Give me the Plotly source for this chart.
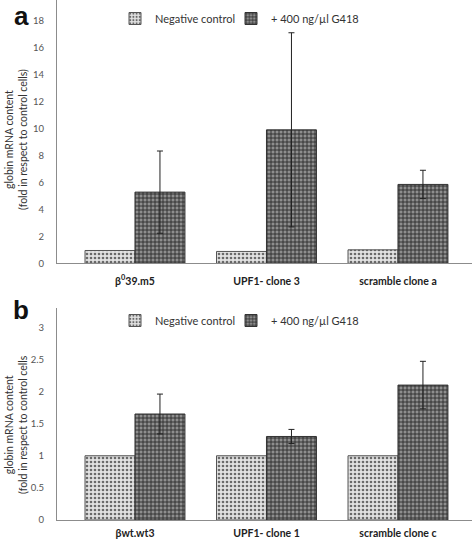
import plotly.graph_objects as go

cats_a = ["β<sup>0</sup>39.m5", "UPF1- clone 3", "scramble clone a"]
neg_a = [0.95, 0.88, 1.0]
g418_a = [5.28, 9.9, 5.85]
g418_a_err = [3.05, 7.2, 1.05]

cats_b = ["βwt.wt3", "UPF1- clone 1", "scramble clone c"]
neg_b = [1.0, 1.0, 1.0]
g418_b = [1.65, 1.30, 2.10]
g418_b_err = [0.31, 0.11, 0.37]

ticks_a = [0, 2, 4, 6, 8, 10, 12, 14, 16, 18]
ticks_b = [0, 0.5, 1, 1.5, 2, 2.5, 3]
tick_text_b = ["0", "0.5", "1", "1.5", "2", "2.5", "3"]

FONT = "Lato"
W, H = 472, 547

neg_style = dict(color="#d9d9d9", line=dict(color="#555555", width=1),
                 pattern=dict(shape=".", fgcolor="#6a6a6a", bgcolor="#e2e2e2", size=4, solidity=0.35, fillmode="replace"))
g_style = dict(color="#7a7a7a", line=dict(color="#333333", width=1),
               pattern=dict(shape="+", fgcolor="#2a2a2a", bgcolor="#8e8e8e", size=4, solidity=0.4, fillmode="replace"))

err_style = dict(type="data", thickness=1, width=3, color="#222222")

fig = go.Figure()
fig.add_trace(go.Bar(x=cats_a, y=neg_a, name="Negative control", marker=neg_style,
                     xaxis="x", yaxis="y", legend="legend", showlegend=True))
fig.add_trace(go.Bar(x=cats_a, y=g418_a, name="+ 400 ng/µl G418", marker=g_style,
                     error_y=dict(array=g418_a_err, **err_style),
                     xaxis="x", yaxis="y", legend="legend2", showlegend=True))
fig.add_trace(go.Bar(x=cats_b, y=neg_b, name="Negative control", marker=neg_style,
                     xaxis="x2", yaxis="y2", legend="legend3", showlegend=True))
fig.add_trace(go.Bar(x=cats_b, y=g418_b, name="+ 400 ng/µl G418", marker=g_style,
                     error_y=dict(array=g418_b_err, **err_style),
                     xaxis="x2", yaxis="y2", legend="legend4", showlegend=True))

xd = [57 / W, 1.0]
ya_dom = [(H - 263.3) / H, 1.0]
yb_dom = [(H - 520) / H, (H - 308) / H]

xaxis_common = dict(showgrid=False, showline=True, linecolor="#8c8c8c", linewidth=1,
                    ticks="", tickfont=dict(family=FONT, size=10.5, color="#222222", weight="bold"),
                    range=[-0.593, 2.563], domain=xd, zeroline=False, automargin=False)
yaxis_common = dict(showgrid=False, showline=True, linecolor="#8c8c8c", linewidth=1,
                    ticks="", tickfont=dict(family=FONT, size=9.5, color="#555555"),
                    zeroline=False, ticklabelstandoff=10, automargin=False)

leg_common = dict(orientation="h", xanchor="left", yanchor="top",
                  font=dict(family=FONT, size=11, color="#333333"), bgcolor="rgba(0,0,0,0)",
                  itemwidth=30, tracegroupgap=0, visible=True)

fig.update_layout(
    width=W, height=H,
    margin=dict(l=0, r=0, t=0, b=0),
    paper_bgcolor="white", plot_bgcolor="white",
    showlegend=True,
    barmode="group", bargap=0.24, bargroupgap=0,
    font=dict(family=FONT, color="#333333"),
    xaxis=dict(anchor="y", ticklabelstandoff=8, **xaxis_common),
    yaxis=dict(anchor="x", domain=ya_dom, range=[0, 19.53], tickvals=ticks_a, **yaxis_common),
    xaxis2=dict(anchor="y2", ticklabelstandoff=3, **xaxis_common),
    yaxis2=dict(anchor="x2", domain=yb_dom, range=[0, 3.3], tickvals=ticks_b, ticktext=tick_text_b, **yaxis_common),
    legend=dict(x=115 / W, y=1 - 4 / H, **leg_common),
    legend2=dict(x=231 / W, y=1 - 4 / H, **leg_common),
    legend3=dict(x=115 / W, y=1 - 306 / H, **leg_common),
    legend4=dict(x=231 / W, y=1 - 306 / H, **leg_common),
)

ytitle_a = "globin mRNA content<br>(fold in respect to control cells)"
ytitle_b = "globin mRNA content<br>(fold in respect to control cells"
for txt, yc in ((ytitle_a, 140), (ytitle_b, 425)):
    fig.add_annotation(text=txt, xref="paper", yref="paper", x=16 / W, y=1 - yc / H,
                       xanchor="center", yanchor="middle",
                       textangle=-90, showarrow=False, font=dict(family=FONT, size=10.5, color="#333333"))
fig.add_annotation(text="<b>a</b>", xref="paper", yref="paper", x=21 / W, y=1 - 16 / H,
                   xanchor="center", yanchor="middle",
                   showarrow=False, font=dict(family="Liberation Sans", size=26, color="#111111"))
fig.add_annotation(text="<b>b</b>", xref="paper", yref="paper", x=21 / W, y=1 - 310 / H,
                   xanchor="center", yanchor="middle",
                   showarrow=False, font=dict(family="Liberation Sans", size=26, color="#111111"))

fig.write_html("out.html", config={"displayModeBar": False},
               post_script="document.body.style.margin='0';document.body.style.overflow='hidden';")
